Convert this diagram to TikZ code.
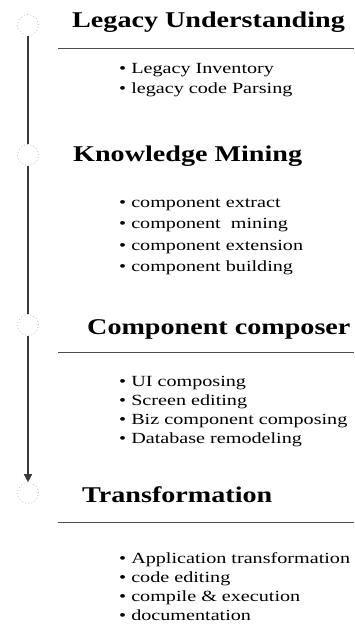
\documentclass[tikz,border=0pt]{standalone}
\usepackage{fontspec}
\setmainfont{Liberation Serif}
\usetikzlibrary{arrows.meta}
\newcommand\hwide[2]{\scalebox{#1}[1]{#2}}
\begin{document}
\begin{tikzpicture}[x=1pt,y=-1pt,
  stagecircle/.style={circle, minimum size=21pt, inner sep=0pt, fill=white, draw=gray!60, dash pattern=on 0.8pt off 2.5pt, line width=0.6pt},
  stagetitle/.style={anchor=base west, inner sep=0pt, font=\fontsize{22.5}{27}\selectfont\bfseries},
  itemtext/.style={anchor=base west, inner sep=0pt, font=\fontsize{15.5}{18}\selectfont},
  rulestyle/.style={draw=gray!60!black, line width=0.8pt},
  flow/.style={draw=gray!45!black, line width=1.4pt},
  flowarrow/.style={flow, -{Triangle[length=8pt,width=8pt]}}]
\useasboundingbox (0,0) rectangle (354,626);

% stage circles
\node[stagecircle] (c1) at (28,25) {};
\node[stagecircle] (c2) at (28,155) {};
\node[stagecircle] (c3) at (28,325) {};
\node[stagecircle] (c4) at (28,493) {};
\draw[flow] (c1) -- (c2);
\draw[flow] (c2) -- (c3);
\draw[flowarrow] (c3) -- (c4);

% rules
\coordinate (r1a) at (58,48);  \coordinate (r1b) at (354,48);
\coordinate (r3a) at (58,352); \coordinate (r3b) at (354,352);
\coordinate (r4a) at (58,522); \coordinate (r4b) at (354,522);
\draw[rulestyle] (r1a) -- (r1b);
\draw[rulestyle] (r3a) -- (r3b);
\draw[rulestyle] (r4a) -- (r4b);

% Legacy Understanding
\node[stagetitle] (t1) at (72,28) {\hwide{1.25}{Legacy Understanding}};
\node[itemtext] (b11) at (119,74) {\hwide{1.3}{• Legacy Inventory}};
\node[itemtext] (b12) at (119,93) {\hwide{1.3}{• legacy code Parsing}};

% Knowledge Mining
\node[stagetitle] (t2) at (73,161) {\hwide{1.25}{Knowledge Mining}};
\node[itemtext] (b21) at (119,207) {\hwide{1.3}{• component extract}};
\node[itemtext] (b22) at (119,228) {\hwide{1.3}{• component\ \ mining}};
\node[itemtext] (b23) at (119,250) {\hwide{1.3}{• component extension}};
\node[itemtext] (b24) at (119,271) {\hwide{1.3}{• component building}};

% Component composer
\node[stagetitle] (t3) at (87,334) {\hwide{1.25}{Component composer}};
\node[itemtext] (b31) at (119,386) {\hwide{1.3}{• UI composing}};
\node[itemtext] (b32) at (119,405) {\hwide{1.3}{• Screen editing}};
\node[itemtext] (b33) at (119,424) {\hwide{1.3}{• Biz component composing}};
\node[itemtext] (b34) at (119,443) {\hwide{1.3}{• Database remodeling}};

% Transformation
\node[stagetitle] (t4) at (82,502) {\hwide{1.25}{Transformation}};
\node[itemtext] (b41) at (119,563) {\hwide{1.3}{• Application transformation}};
\node[itemtext] (b42) at (119,582) {\hwide{1.3}{• code editing}};
\node[itemtext] (b43) at (119,601) {\hwide{1.3}{• compile \& execution}};
\node[itemtext] (b44) at (119,620) {\hwide{1.3}{• documentation}};
\end{tikzpicture}
\end{document}
